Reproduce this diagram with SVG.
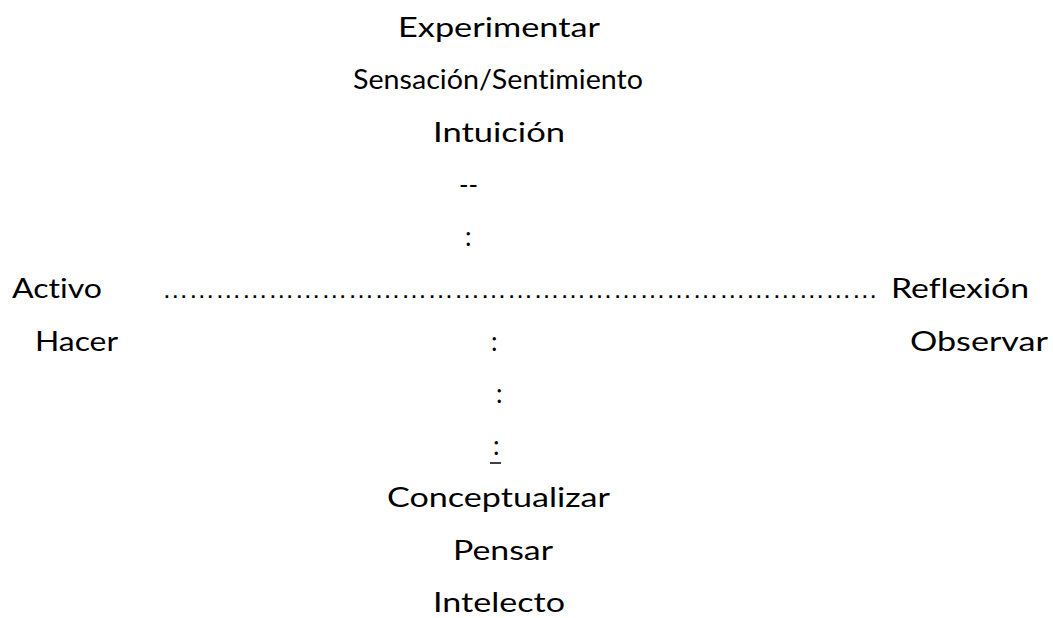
<svg xmlns="http://www.w3.org/2000/svg" width="1053" height="618" viewBox="0 0 1053 618">
<style>
text{font-family:Lato,"Open Sans","Liberation Sans",sans-serif;font-size:26px;fill:#000;font-variant-ligatures:none;font-feature-settings:"liga" 0}
text.dots{font-family:"Liberation Sans",Arial,sans-serif;font-size:26.5px}
.u{stroke:#000;stroke-width:1.5}
</style>
<rect width="1053" height="618" fill="#fff"/>
<g id="top">
<text x="398" y="37" textLength="202" lengthAdjust="spacingAndGlyphs">Experimentar</text>
<text x="353" y="89" textLength="290" lengthAdjust="spacingAndGlyphs">Sensación/Sentimiento</text>
<text x="433" y="142" textLength="132" lengthAdjust="spacingAndGlyphs">Intuición</text>
</g>
<g id="connectors">
<text x="459" y="194" textLength="19" lengthAdjust="spacingAndGlyphs">--</text>
<text x="465" y="246">:</text>
<text class="dots" x="162" y="298" textLength="716" lengthAdjust="spacingAndGlyphs">&#8230;&#8230;&#8230;&#8230;&#8230;&#8230;&#8230;&#8230;&#8230;&#8230;&#8230;&#8230;&#8230;&#8230;&#8230;&#8230;&#8230;&#8230;&#8230;&#8230;&#8230;&#8230;&#8230;&#8230;&#8230;&#8230;&#8230;</text>
<text x="491" y="351">:</text>
<text x="496" y="403">:</text>
<text x="493" y="455">:</text>
<line class="u" x1="490" y1="463" x2="501" y2="463"/>
</g>
<g id="left">
<text x="12" y="298" textLength="90" lengthAdjust="spacingAndGlyphs">Activo</text>
<text x="35" y="351" textLength="83" lengthAdjust="spacingAndGlyphs">Hacer</text>
</g>
<g id="right">
<text x="891" y="298" textLength="138" lengthAdjust="spacingAndGlyphs">Reflexión</text>
<text x="910" y="351" textLength="138" lengthAdjust="spacingAndGlyphs">Observar</text>
</g>
<g id="bottom">
<text x="387" y="507" textLength="223" lengthAdjust="spacingAndGlyphs">Conceptualizar</text>
<text x="453" y="560" textLength="100" lengthAdjust="spacingAndGlyphs">Pensar</text>
<text x="433" y="612" textLength="132" lengthAdjust="spacingAndGlyphs">Intelecto</text>
</g>
</svg>
